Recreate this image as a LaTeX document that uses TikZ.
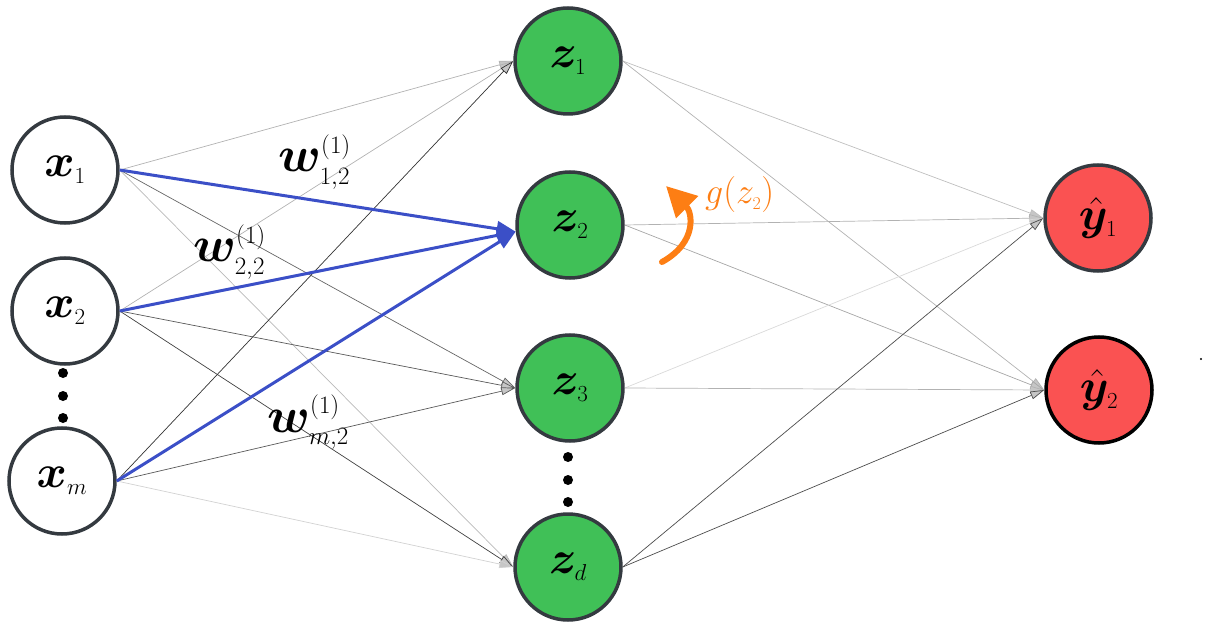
\RequirePackage{fix-cm}
\documentclass[tikz,border=0pt]{standalone}
\usepackage{bm}
\usetikzlibrary{arrows.meta}
\renewcommand{\defaultscriptratio}{.5}
\renewcommand{\defaultscriptscriptratio}{.38}
\definecolor{nodegreen}{HTML}{40C057}
\definecolor{nodered}{HTML}{FA5252}
\definecolor{edgeblue}{HTML}{3B4FC7}
\definecolor{actorange}{HTML}{FD7E14}
\definecolor{rim}{HTML}{343A40}
\tikzset{
  neuron/.style={circle, draw=rim, line width=3.5pt, minimum size=106pt, inner sep=0pt,
    font=\fontsize{46}{50}\selectfont},
  innode/.style={neuron, fill=white},
  hidnode/.style={neuron, fill=nodegreen},
  outnode/.style={neuron, fill=nodered},
  conn/.style={line width=0.7pt, -{Triangle[length=14pt,width=8pt,fill=gray!45]}},
  heavy/.style={edgeblue, line width=3pt, -{Triangle[length=19pt,width=15pt]}},
  wlabel/.style={anchor=base west, inner sep=0pt, font=\fontsize{50}{54}\selectfont},
  dotnode/.style={circle, fill=black, inner sep=0pt, minimum size=10pt}
}
\begin{document}
\begin{tikzpicture}[x=1pt, y=-1pt]
    \useasboundingbox (0,0) rectangle (1210,628);

    % 输入层
    \node[innode] (x1) at (65,170) {$\bm{x}_1$};
    \node[innode] (x2) at (65,311) {$\bm{x}_2$};
    \node[innode] (xm) at (62,481) {$\bm{x}_m$};
    \node[dotnode] (xd1) at (63,373) {};
    \node[dotnode] (xd2) at (63,396) {};
    \node[dotnode] (xd3) at (63,418) {};

    % 隐藏层
    \node[hidnode] (z1) at (568,61) {$\bm{z}_1$};
    \node[hidnode] (z2) at (570,225) {$\bm{z}_2$};
    \node[hidnode] (z3) at (570,388) {$\bm{z}_3$};
    \node[hidnode] (zd) at (568,567) {$\bm{z}_d$};
    \node[dotnode] (zd1) at (568,457) {};
    \node[dotnode] (zd2) at (568,480) {};
    \node[dotnode] (zd3) at (568,502) {};

    % 输出层
    \node[outnode] (y1) at (1098,218) {$\hat{\bm{y}}_1$};
    \node[outnode, draw=black] (y2) at (1099,390) {$\hat{\bm{y}}_2$};

    % 输入 -> 隐藏
    \draw[conn, gray!60] (x1.east) -- (z1.west);
    \draw[conn, black!60] (x1.east) -- (z3.west);
    \draw[conn, gray!55] (x1.east) -- (zd.west);
    \draw[conn, gray!60] (x2.east) -- (z1.west);
    \draw[conn, black!65] (x2.east) -- (z3.west);
    \draw[conn, black!75] (x2.east) -- (zd.west);
    \draw[conn, black!80] (xm.east) -- (z1.west);
    \draw[conn, black!65] (xm.east) -- (z3.west);
    \draw[conn, gray!35] (xm.east) -- (zd.west);

    % 隐藏 -> 输出
    \draw[conn, gray!50] (z1.east) -- (y1.west);
    \draw[conn, gray!60] (z1.east) -- (y2.west);
    \draw[conn, gray!60] (z2.east) -- (y1.west);
    \draw[conn, gray!70] (z2.east) -- (y2.west);
    \draw[conn, gray!30] (z3.east) -- (y1.west);
    \draw[conn, gray!60] (z3.east) -- (y2.west);
    \draw[conn, black!70] (zd.east) -- (y1.west);
    \draw[conn, black!70] (zd.east) -- (y2.west);

    % 权重
    \draw[heavy] (x1.east) -- (z2.187);
    \draw[heavy] (x2.east) -- (z2.187);
    \draw[heavy] (xm.east) -- (z2.187);
    \node[wlabel] (w1) at (278,172) {$\bm{w}^{(1)}_{1,2}$};
    \node[wlabel] (w2) at (193,262) {$\bm{w}^{(1)}_{2,2}$};
    \node[wlabel] (wm) at (267,432) {$\bm{w}^{(1)}_{m,2}$};

    % 激活函数
    \coordinate (gtail) at (662,262);
    \coordinate (ghead) at (666,186);
    \draw[actorange, line width=6pt, line cap=round, -{Triangle[length=30pt,width=30pt]}]
        (gtail) .. controls (698,242) and (692,212) .. (ghead);
    \node[actorange, anchor=base west, inner sep=0pt, font=\fontsize{36}{40}\selectfont] (g) at (705,204) {$g(z_2)$};

    \fill (1201,359) circle (1.2pt);
\end{tikzpicture}
\end{document}
